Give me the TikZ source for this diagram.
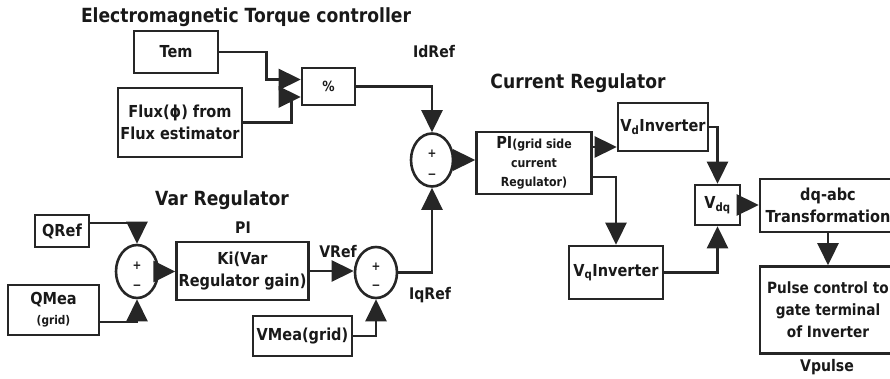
\documentclass[tikz,border=0pt]{standalone}
\usepackage{fontspec}
\setmainfont{DejaVu Sans}[FakeStretch=0.88]
\usetikzlibrary{shapes.geometric,arrows.meta}

\begin{document}
\begin{tikzpicture}[x=1pt,y=-1pt,
  every node/.style={font=\bfseries\fontsize{16.5}{22}\selectfont,text=black!90},
  blk/.style={draw=black!85,line width=2.6pt,align=center,inner sep=2pt},
  sumnode/.style={draw=black!85,line width=2.6pt,ellipse,minimum width=42pt,minimum height=53pt,inner sep=0pt},
  sgn/.style={font=\bfseries\fontsize{12}{12}\selectfont,inner sep=0pt},
  ttl/.style={font=\bfseries\fontsize{19.5}{22}\selectfont},
  lbl/.style={font=\bfseries\fontsize{16}{18}\selectfont},
  sig/.style={draw=black!85,line width=2.6pt,-{Triangle[length=22pt,width=21pt]}}]
  \useasboundingbox (0,0) rectangle (890,379);
  % Electromagnetic Torque controller
  \node[ttl] (ttlem) at (246,17) {Electromagnetic Torque controller};
  \node[blk,minimum width=84pt,minimum height=42pt] (tem) at (176,52) {Tem};
  \node[blk,minimum width=124pt,minimum height=69pt] (flux) at (180,122.5) {Flux(ϕ) from\\Flux estimator};
  \node[blk,minimum width=53pt,minimum height=37pt,font=\bfseries\fontsize{14}{16}\selectfont] (pct) at (328.5,86.5) {\%};
  \node[lbl] (idref) at (434,52) {IdRef};
  \node[sumnode] (sumid) at (432,160) {};
  \node[sgn] (sumidp) at ([yshift=6pt]sumid.center) {+};
  \node[sgn] (sumidm) at ([yshift=-16pt]sumid.center) {−};
  % Current Regulator
  \node[ttl] (ttlcr) at (578,83) {Current Regulator};
  \node[blk,minimum width=115pt,minimum height=62pt,font=\bfseries\fontsize{12.5}{19}\selectfont] (pi) at (534,163)
    {{\fontsize{16.5}{19}\selectfont PI}(grid side\\current\\Regulator)};
  \node[blk,minimum width=90pt,minimum height=48pt,inner sep=1pt] (vd) at (663,127) {V\textsubscript{d}Inverter};
  \node[blk,minimum width=94pt,minimum height=53pt,inner sep=1pt] (vq) at (616,272.5) {V\textsubscript{q}Inverter};
  \node[blk,minimum width=45pt,minimum height=40pt,inner sep=1pt] (vdq) at (717.5,205) {V\textsubscript{dq}};
  \node[blk,minimum width=136pt,minimum height=53pt] (dqabc) at (828,205.5) {dq-abc\\Transformation};
  \node[blk,minimum width=136pt,minimum height=87pt,font=\bfseries\fontsize{15.5}{22}\selectfont] (pulse) at (828,310)
    {Pulse control to\\gate terminal\\of Inverter};
  \node[lbl] (vpulse) at (827,367) {Vpulse};
  % Var Regulator
  \node[ttl] (ttlvar) at (222,200) {Var Regulator};
  \node[lbl] (pilbl) at (243,228) {PI};
  \node[blk,minimum width=54pt,minimum height=32pt] (qref) at (62,231) {QRef};
  \node[blk,minimum width=91pt,minimum height=50pt,font=\bfseries\fontsize{16.5}{20}\selectfont] (qmea) at (53.5,310)
    {QMea\\{\fontsize{12}{20}\selectfont(grid)}};
  \node[sumnode] (sumq) at (137,271.5) {};
  \node[sgn] (sumqp) at ([yshift=6pt]sumq.center) {+};
  \node[sgn] (sumqm) at ([yshift=-16pt]sumq.center) {−};
  \node[blk,minimum width=131pt,minimum height=58pt] (ki) at (242.5,271) {Ki(Var\\Regulator gain)};
  \node[lbl] (vref) at (338,252) {VRef};
  \node[sumnode,minimum height=51pt] (sumv) at (376,272.5) {};
  \node[sgn] (sumvp) at ([yshift=6pt]sumv.center) {+};
  \node[sgn] (sumvm) at ([yshift=-15pt]sumv.center) {−};
  \node[blk,minimum width=99pt,minimum height=40pt] (vmea) at (302.5,336) {VMea(grid)};
  \node[lbl] (iqref) at (430,295) {IqRef};
  % signals
  \draw[sig] (tem.east) -| ([xshift=-34pt,yshift=7pt]pct.west) -- ([yshift=7pt]pct.west);
  \draw[sig] (flux.east) -| ([xshift=-9pt,yshift=-10.5pt]pct.west) -- ([yshift=-10.5pt]pct.west);
  \draw[sig] (pct.east) -| (sumid.north);
  \draw[sig] (sumid.east) -- (sumid.east -| pi.west);
  \draw[sig] ([yshift=16pt]pi.east) -- ([yshift=16pt]pi.east -| vd.west);
  \draw[sig] ([yshift=-14pt]pi.east) -| (vq.north);
  \draw[sig] (vd.east) -| (vdq.north);
  \draw[sig] (vq.east) -| (vdq.south);
  \draw[sig] (vdq.east) -- (vdq.east -| dqabc.west);
  \draw[sig] (dqabc.south) -- (pulse.north);
  \draw[sig] ([yshift=8pt]qref.east) -| (sumq.north);
  \draw[sig] ([yshift=-12pt]qmea.east) -| (sumq.south);
  \draw[sig] (sumq.east) -- (sumq.east -| ki.west);
  \draw[sig] (ki.east) -- (ki.east -| sumv.west);
  \draw[sig] (vmea.east) -| (sumv.south);
  \draw[sig] (sumv.east) -| (sumid.south);
\end{tikzpicture}
\end{document}
